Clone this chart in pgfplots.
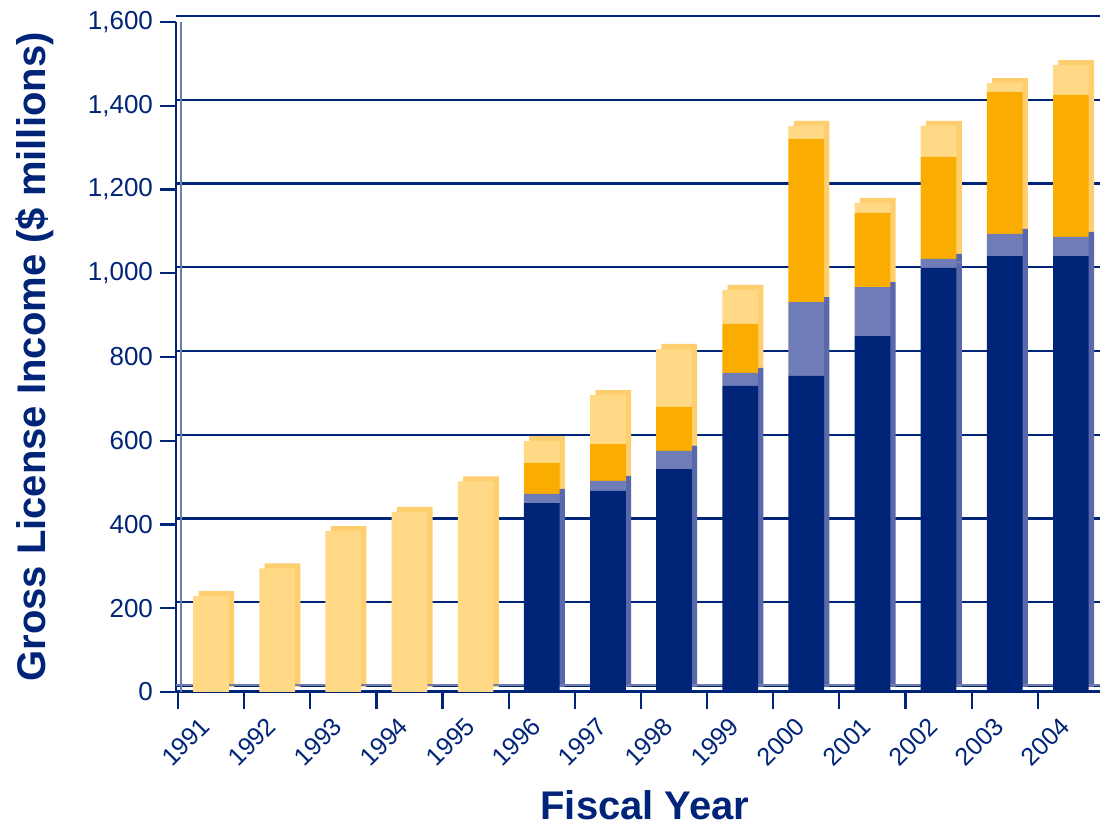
\documentclass[border=0pt]{standalone}
\usepackage{fontspec}
\setmainfont{Liberation Sans}
\usepackage{pgfplots}
\pgfplotsset{compat=1.18}

\definecolor{navy}{RGB}{0,36,120}
\definecolor{midblue}{RGB}{111,124,184}
\definecolor{amber}{RGB}{250,172,0}
\definecolor{sand}{RGB}{255,217,134}
\definecolor{wall}{RGB}{112,124,172}
\definecolor{navyside}{RGB}{88,104,170}
\definecolor{sandside}{RGB}{255,206,110}

\pgfplotsset{
  base/.style={
    scale only axis, width=462pt, height=335pt,
    xmin=-0.53, xmax=13.44, ymin=0, ymax=1600,
    ybar stacked, bar width=0.54,
    axis x line*=bottom, axis y line*=left,
  },
}

\begin{document}
\begin{tikzpicture}
% back layer: grid lines and the sides/tops of the bars
\begin{axis}[base,
  axis line style={draw=none},
  xtick=\empty, ytick={0,200,...,1600}, yticklabels={},
  major tick length=0pt, tick style={draw=none},
  ymajorgrids,
  major grid style={navy, line width=1.1pt, yshift=3pt},
  bar shift=0.08,
]
\addplot[draw=none, fill=none] coordinates {
  (0,12) (1,12) (2,12) (3,12) (4,12) (5,12) (6,12) (7,12) (8,12)
  (9,12) (10,12) (11,12) (12,12) (13,12)};
\addplot[fill=navyside, draw=none] coordinates {
  (0,0) (1,0) (2,0) (3,0) (4,0) (5,451) (6,480) (7,532) (8,731)
  (9,755) (10,850) (11,1013) (12,1041) (13,1041)};
\addplot[fill=navyside, draw=none] coordinates {
  (0,0) (1,0) (2,0) (3,0) (4,0) (5,22) (6,24) (7,44) (8,31)
  (9,176) (10,117) (11,21) (12,53) (13,46)};
\addplot[fill=sandside, draw=none] coordinates {
  (0,0) (1,0) (2,0) (3,0) (4,0) (5,74) (6,88) (7,105) (8,117)
  (9,390) (10,177) (11,244) (12,339) (13,339)};
\addplot[fill=sandside, draw=none] coordinates {
  (0,229) (1,295) (2,384) (3,430) (4,503) (5,52) (6,117) (7,138) (8,81)
  (9,31) (10,24) (11,74) (12,21) (13,71)};
\end{axis}

% front layer: the bars and the axes
\begin{axis}[base,
  x axis line style={navy, line width=1.5pt},
  y axis line style={navy, line width=1.1pt},
  xtick={0,...,13},
  xticklabels={1991,1992,1993,1994,1995,1996,1997,1998,1999,2000,2001,2002,2003,2004},
  major x tick style={draw=none},
  minor xtick={-0.5,0.5,...,12.5},
  minor tick length=8.5pt,
  major tick length=8pt,
  tick align=outside,
  tick style={navy, line width=1.1pt},
  ytick={0,200,...,1600},
  /pgf/number format/assume math mode=true,
  /pgf/number format/1000 sep={,},
  tick label style={text=navy},
  y tick label style={font=\fontsize{13}{13}\selectfont},
  x tick label style={font=\fontsize{12.5}{12.5}\selectfont, rotate=45,
    anchor=north east, xshift=-3.5pt, yshift=5pt},
  ylabel={Gross License Income (\$ millions)},
  xlabel={Fiscal Year},
  ylabel style={at={(axis description cs:-0.1526,0.5)}, anchor=center, rotate=0,
    font=\bfseries\fontsize{20}{20}\selectfont, text=navy},
  xlabel style={at={(axis description cs:0.5076,-0.169)}, anchor=center,
    font=\bfseries\fontsize{20}{20}\selectfont, text=navy},
]
% dark navy
\addplot[fill=navy, draw=none] coordinates {
  (0,0) (1,0) (2,0) (3,0) (4,0) (5,451) (6,480) (7,532) (8,731)
  (9,755) (10,850) (11,1013) (12,1041) (13,1041)};
% medium blue
\addplot[fill=midblue, draw=none] coordinates {
  (0,0) (1,0) (2,0) (3,0) (4,0) (5,22) (6,24) (7,44) (8,31)
  (9,176) (10,117) (11,21) (12,53) (13,46)};
% orange
\addplot[fill=amber, draw=none] coordinates {
  (0,0) (1,0) (2,0) (3,0) (4,0) (5,74) (6,88) (7,105) (8,117)
  (9,390) (10,177) (11,244) (12,339) (13,339)};
% light yellow
\addplot[fill=sand, draw=none] coordinates {
  (0,229) (1,295) (2,384) (3,430) (4,503) (5,52) (6,117) (7,138) (8,81)
  (9,31) (10,24) (11,74) (12,21) (13,71)};

% back wall lines
\draw[wall, line width=1pt] ([xshift=2.5pt]rel axis cs:0,0) -- ([xshift=2.5pt]rel axis cs:0,1);
\draw[wall, line width=1pt] ([yshift=3.5pt]rel axis cs:0,0) -- ([yshift=3.5pt]rel axis cs:1,0);

\coordinate (bl) at (axis description cs:-0.1905,-0.2015);
\coordinate (tr) at (axis description cs:1.0022,1.0328);
\end{axis}
\pgfresetboundingbox
\path (bl) rectangle (tr);
\end{tikzpicture}
\end{document}
